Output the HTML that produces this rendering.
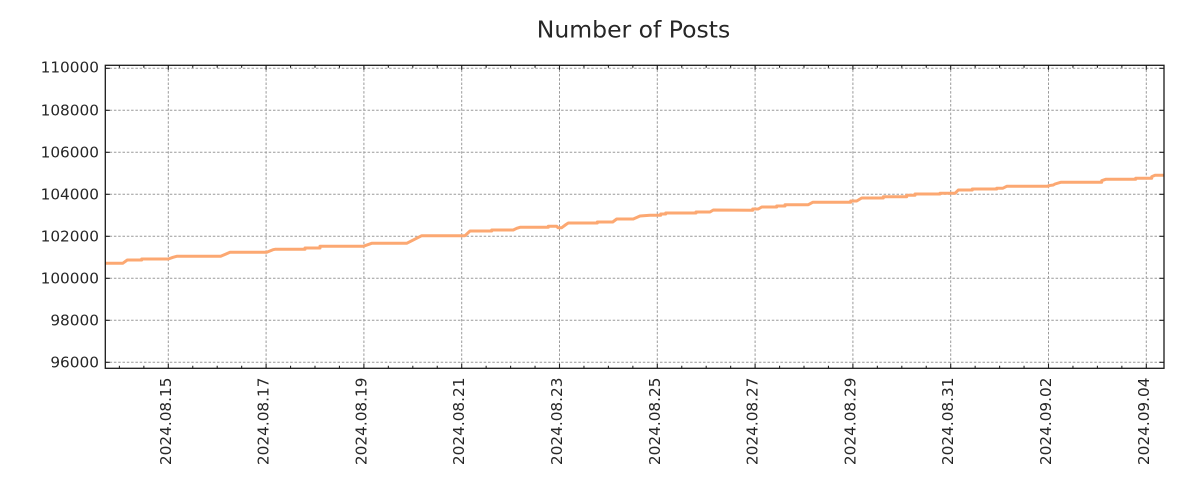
<!DOCTYPE html>
<html>
<head>
<meta charset="utf-8">
<style>
  html, body { margin: 0; padding: 0; background: #ffffff; }
  svg { display: block; }
  text { font-family: "DejaVu Sans", "Liberation Sans", sans-serif; fill: #262626; }
</style>
</head>
<body>
<svg width="1200" height="500" viewBox="0 0 1200 500" xmlns="http://www.w3.org/2000/svg">
  <defs>
    <clipPath id="plot">
      <rect x="105.3" y="65.3" width="1058.7" height="303"/>
    </clipPath>
  </defs>
  <rect x="0" y="0" width="1200" height="500" fill="#ffffff"/>

  <!-- Title -->
  <text x="633.5" y="37.7" font-size="23.5" text-anchor="middle">Number of Posts</text>

  <!-- Grid -->
  <g stroke="#9a9a9a" stroke-width="1" stroke-dasharray="2.5,1.8" fill="none">
    <path d="M105.3 362.3H1164M105.3 320.3H1164M105.3 278.3H1164M105.3 236.3H1164M105.3 194.3H1164M105.3 152.3H1164M105.3 110.3H1164M105.3 68.3H1164"/>
    <path d="M168.3 65.3V368.3M266.1 65.3V368.3M363.9 65.3V368.3M461.7 65.3V368.3M559.5 65.3V368.3M657.3 65.3V368.3M755.1 65.3V368.3M852.9 65.3V368.3M950.7 65.3V368.3M1048.5 65.3V368.3M1146.3 65.3V368.3"/>
  </g>

  <!-- Data line -->
  <g clip-path="url(#plot)">
    <polyline fill="none" stroke="#fca872" stroke-width="3" stroke-linejoin="round" points="104,263.3 122.7,263.3 127.3,260 141.7,260 141.7,259 168.3,259 173,257.3 176.7,256.3 220.7,256.3 226,254 230,252.3 266.7,252.3 273,249.7 275,249.3 305,249.3 305,248 320,248 320,246.3 363.3,246.3 366,245.3 371.7,243.3 406.7,243.3 421.7,235.7 465,235.7 470,231 491.7,231 491.7,230 513.3,230 516.7,228.3 520,227.3 548.3,227.3 548.3,226.3 556.7,226.3 558,227.7 561.7,227.7 566,224.5 568.3,223 597.3,223 597.3,222 612.7,222 616.7,219 633.3,219 640,216 650,215.3 660.7,215.3 660.7,214 665.7,214 665.7,213 696,213 696,212 710,212 713.3,210 752.7,210.3 752.7,209 758.3,209 761.7,207 776.7,207 776.7,206 785,206 785,204.7 808.3,204.7 812.7,202.3 850.7,202.3 850.7,201 856.7,201 861.7,198 883.3,198 883.3,196.7 906.7,196.7 906.7,195.3 915,195.3 915,194 940,194 940,193.3 955,193.3 958.3,190 972.3,190 972.3,189 996.7,189 996.7,188.3 1002.7,188.3 1006.7,186.3 1048.3,186.3 1048.3,185.7 1053.3,185 1055,184 1060.7,182.3 1101.7,182.3 1101.7,180.7 1105.7,179.3 1135.7,179.3 1135.7,178.3 1151.7,178.3 1151.7,176.7 1155,175.3 1166,175.3"/>
  </g>

  <!-- Ticks -->
  <g stroke="#222" stroke-width="1.1" fill="none">
    <path d="M105.3 362.3h4.5M105.3 320.3h4.5M105.3 278.3h4.5M105.3 236.3h4.5M105.3 194.3h4.5M105.3 152.3h4.5M105.3 110.3h4.5M105.3 68.3h4.5"/>
    <path d="M1164 362.3h-4.5M1164 320.3h-4.5M1164 278.3h-4.5M1164 236.3h-4.5M1164 194.3h-4.5M1164 152.3h-4.5M1164 110.3h-4.5M1164 68.3h-4.5"/>
    <path d="M168.3 368.3v-4.5M266.1 368.3v-4.5M363.9 368.3v-4.5M461.7 368.3v-4.5M559.5 368.3v-4.5M657.3 368.3v-4.5M755.1 368.3v-4.5M852.9 368.3v-4.5M950.7 368.3v-4.5M1048.5 368.3v-4.5M1146.3 368.3v-4.5"/>
    <path d="M168.3 65.3v4.5M266.1 65.3v4.5M363.9 65.3v4.5M461.7 65.3v4.5M559.5 65.3v4.5M657.3 65.3v4.5M755.1 65.3v4.5M852.9 65.3v4.5M950.7 65.3v4.5M1048.5 65.3v4.5M1146.3 65.3v4.5"/>
    <path d="M119.4 368.3v-2.5M143.85 368.3v-2.5M192.75 368.3v-2.5M217.2 368.3v-2.5M241.65 368.3v-2.5M290.55 368.3v-2.5M315 368.3v-2.5M339.45 368.3v-2.5M388.35 368.3v-2.5M412.8 368.3v-2.5M437.25 368.3v-2.5M486.15 368.3v-2.5M510.6 368.3v-2.5M535.05 368.3v-2.5M583.95 368.3v-2.5M608.4 368.3v-2.5M632.85 368.3v-2.5M681.75 368.3v-2.5M706.2 368.3v-2.5M730.65 368.3v-2.5M779.55 368.3v-2.5M804 368.3v-2.5M828.45 368.3v-2.5M877.35 368.3v-2.5M901.8 368.3v-2.5M926.25 368.3v-2.5M975.15 368.3v-2.5M999.6 368.3v-2.5M1024.05 368.3v-2.5M1072.95 368.3v-2.5M1097.4 368.3v-2.5M1121.85 368.3v-2.5"/>
    <path d="M119.4 65.3v2.5M143.85 65.3v2.5M192.75 65.3v2.5M217.2 65.3v2.5M241.65 65.3v2.5M290.55 65.3v2.5M315 65.3v2.5M339.45 65.3v2.5M388.35 65.3v2.5M412.8 65.3v2.5M437.25 65.3v2.5M486.15 65.3v2.5M510.6 65.3v2.5M535.05 65.3v2.5M583.95 65.3v2.5M608.4 65.3v2.5M632.85 65.3v2.5M681.75 65.3v2.5M706.2 65.3v2.5M730.65 65.3v2.5M779.55 65.3v2.5M804 65.3v2.5M828.45 65.3v2.5M877.35 65.3v2.5M901.8 65.3v2.5M926.25 65.3v2.5M975.15 65.3v2.5M999.6 65.3v2.5M1024.05 65.3v2.5M1072.95 65.3v2.5M1097.4 65.3v2.5M1121.85 65.3v2.5"/>
  </g>

  <!-- Axes frame -->
  <rect x="105.3" y="65.3" width="1058.7" height="303" fill="none" stroke="#1a1a1a" stroke-width="1.3"/>

  <!-- Y tick labels -->
  <g font-size="15.3" text-anchor="end" dominant-baseline="central">
    <text x="99" y="362.3">96000</text>
    <text x="99" y="320.3">98000</text>
    <text x="99" y="278.3">100000</text>
    <text x="99" y="236.3">102000</text>
    <text x="99" y="194.3">104000</text>
    <text x="99" y="152.3">106000</text>
    <text x="99" y="110.3">108000</text>
    <text x="99" y="67.3">110000</text>
  </g>

  <!-- X tick labels (rotated) -->
  <g font-size="15.3" text-anchor="end" dominant-baseline="central">
    <text transform="translate(165.8,377.5) rotate(-90)">2024.08.15</text>
    <text transform="translate(263.6,377.5) rotate(-90)">2024.08.17</text>
    <text transform="translate(361.4,377.5) rotate(-90)">2024.08.19</text>
    <text transform="translate(459.2,377.5) rotate(-90)">2024.08.21</text>
    <text transform="translate(557,377.5) rotate(-90)">2024.08.23</text>
    <text transform="translate(654.8,377.5) rotate(-90)">2024.08.25</text>
    <text transform="translate(752.6,377.5) rotate(-90)">2024.08.27</text>
    <text transform="translate(850.4,377.5) rotate(-90)">2024.08.29</text>
    <text transform="translate(948.2,377.5) rotate(-90)">2024.08.31</text>
    <text transform="translate(1046,377.5) rotate(-90)">2024.09.02</text>
    <text transform="translate(1143.8,377.5) rotate(-90)">2024.09.04</text>
  </g>
</svg>
</body>
</html>
